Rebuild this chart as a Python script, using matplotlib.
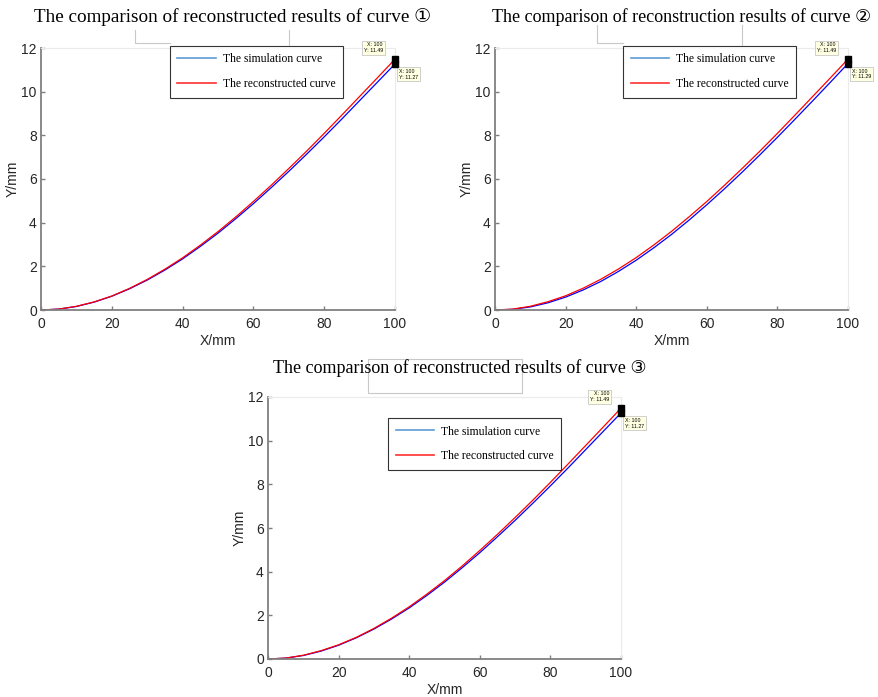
import numpy as np
import matplotlib.pyplot as plt
from matplotlib.lines import Line2D

# ---------- data ----------
x_mm = [0, 5, 10, 15, 20, 25, 30, 35, 40, 45, 50, 55, 60, 65, 70, 75, 80, 85, 90, 95, 100]

sim_1 = [0, 0.04, 0.16, 0.36, 0.63, 0.97, 1.37, 1.83, 2.34, 2.91, 3.52, 4.18, 4.87, 5.60, 6.35, 7.13, 7.93, 8.75, 9.59, 10.43, 11.27]
rec_1 = [0, 0.04, 0.17, 0.37, 0.64, 0.99, 1.40, 1.87, 2.39, 2.97, 3.59, 4.26, 4.97, 5.71, 6.48, 7.27, 8.09, 8.93, 9.78, 10.63, 11.49]

sim_2 = [0, 0.03, 0.14, 0.33, 0.59, 0.92, 1.31, 1.77, 2.28, 2.85, 3.46, 4.12, 4.82, 5.55, 6.31, 7.10, 7.91, 8.74, 9.58, 10.43, 11.29]
rec_2 = [0, 0.04, 0.17, 0.38, 0.65, 1.00, 1.41, 1.88, 2.40, 2.98, 3.60, 4.27, 4.97, 5.71, 6.48, 7.27, 8.09, 8.93, 9.78, 10.63, 11.49]

sim_3 = [0, 0.04, 0.16, 0.36, 0.63, 0.97, 1.37, 1.83, 2.34, 2.91, 3.52, 4.18, 4.87, 5.60, 6.35, 7.13, 7.93, 8.75, 9.59, 10.43, 11.27]
rec_3 = [0, 0.04, 0.17, 0.38, 0.65, 0.99, 1.40, 1.87, 2.39, 2.97, 3.59, 4.26, 4.97, 5.71, 6.48, 7.27, 8.09, 8.93, 9.78, 10.63, 11.49]

titles = ['The comparison of reconstructed results of curve \u2460',
          'The comparison of reconstruction results of curve \u2461',
          'The comparison of reconstructed results of curve \u2462']
legend_labels = ['The simulation curve', 'The reconstructed curve']
y_ticks = [0, 2, 4, 6, 8, 10, 12]
x_ticks = [0, 20, 40, 60, 80, 100]

# ---------- layout helpers (pixel based) ----------
W, H = 879, 697
fig = plt.figure(figsize=(W / 100, H / 100), dpi=100)
serif = ['Liberation Serif', 'DejaVu Sans']
sans = 'Liberation Sans'


def px_axes(left, right, top, bottom):
    return fig.add_axes([left / W, 1 - bottom / H, (right - left) / W, (bottom - top) / H])


def fig_line(xs, ys):
    fig.add_artist(Line2D([v / W for v in xs], [1 - v / H for v in ys],
                          color='#c8c8c8', lw=0.8, transform=fig.transFigure))


def draw_panel(ax, sim, rec, legend_anchor):
    ax.plot(x_mm, sim, color='#0000ff', lw=0.9)
    ax.plot(x_mm, rec, color='#ff0000', lw=0.9)
    ax.set_xlim(0, 100)
    ax.set_ylim(0, 12)
    ax.set_xticks(x_ticks)
    ax.set_yticks(y_ticks)
    ax.tick_params(direction='in', length=3, width=1, colors='#7f7f7f',
                   labelcolor='#262626', labelsize=10, top=False, right=False)
    ax.tick_params(axis='x', pad=5)
    ax.tick_params(axis='y', pad=3)
    for lab in ax.get_xticklabels() + ax.get_yticklabels():
        lab.set_family(sans)
    for s in ['left', 'bottom']:
        ax.spines[s].set_color('#808080')
        ax.spines[s].set_linewidth(1.3)
    for s in ['top', 'right']:
        ax.spines[s].set_color('#ebebeb')
        ax.spines[s].set_linewidth(0.8)
    ax.set_xlabel('X/mm', family=sans, fontsize=10, color='#262626', labelpad=2)
    ax.set_ylabel('Y/mm', family=sans, fontsize=10, color='#262626', labelpad=1)

    handles = [Line2D([], [], color='#5b9bd5', lw=1.2),
               Line2D([], [], color='#ff3030', lw=1.2)]
    leg = ax.legend(handles, legend_labels, loc='upper left', bbox_to_anchor=legend_anchor,
                    prop={'family': 'Liberation Serif', 'size': 8.4}, frameon=True,
                    fancybox=False, edgecolor='black', handlelength=3.3,
                    labelspacing=1.1, borderpad=0.65, handletextpad=0.6, borderaxespad=0)
    leg.get_frame().set_linewidth(0.8)

    # data tips at x = 100
    ax.plot([100, 100], [rec[-1], sim[-1]], 's', color='black', ms=4, clip_on=False, zorder=5)
    tip = dict(boxstyle='square,pad=0.3', fc='#ffffe1', ec='#c8c8c8', lw=0.6)
    ax.annotate('X: 100\nY: %.2f' % rec[-1], xy=(100, rec[-1]), xytext=(-12, 6),
                textcoords='offset pixels', ha='right', va='bottom', fontsize=3.8,
                family=sans, bbox=tip, annotation_clip=False)
    ax.annotate('X: 100\nY: %.2f' % sim[-1], xy=(100, sim[-1]), xytext=(4, -5),
                textcoords='offset pixels', ha='left', va='top', fontsize=3.8,
                family=sans, bbox=tip, annotation_clip=False)


ax1 = px_axes(41, 395, 48, 310)
ax2 = px_axes(495, 848, 48, 310)
ax3 = px_axes(268, 621, 397, 659)

draw_panel(ax1, sim_1, rec_1, (0.364, 1.008))
draw_panel(ax2, sim_2, rec_2, (0.363, 1.008))
draw_panel(ax3, sim_3, rec_3, (0.34, 0.92))

# titles
fig.text(233 / W, 1 - 17 / H, titles[0], ha='center', va='center', fontsize=13.8, family=serif)
fig.text(682 / W, 1 - 17 / H, titles[1], ha='center', va='center', fontsize=13.0, family=serif)
fig.text(460 / W, 1 - 368 / H, titles[2], ha='center', va='center', fontsize=13.0, family=serif)

# faint leftover frame lines from the original composition
fig_line([135, 135, 170], [30, 43, 43])
fig_line([289, 289], [30, 45])
fig_line([597, 597, 623], [25, 43, 43])
fig_line([742, 742], [25, 45])
fig_line([368, 522, 522, 368, 368], [359, 359, 393, 393, 359])

fig.savefig('out.png', dpi=100)
